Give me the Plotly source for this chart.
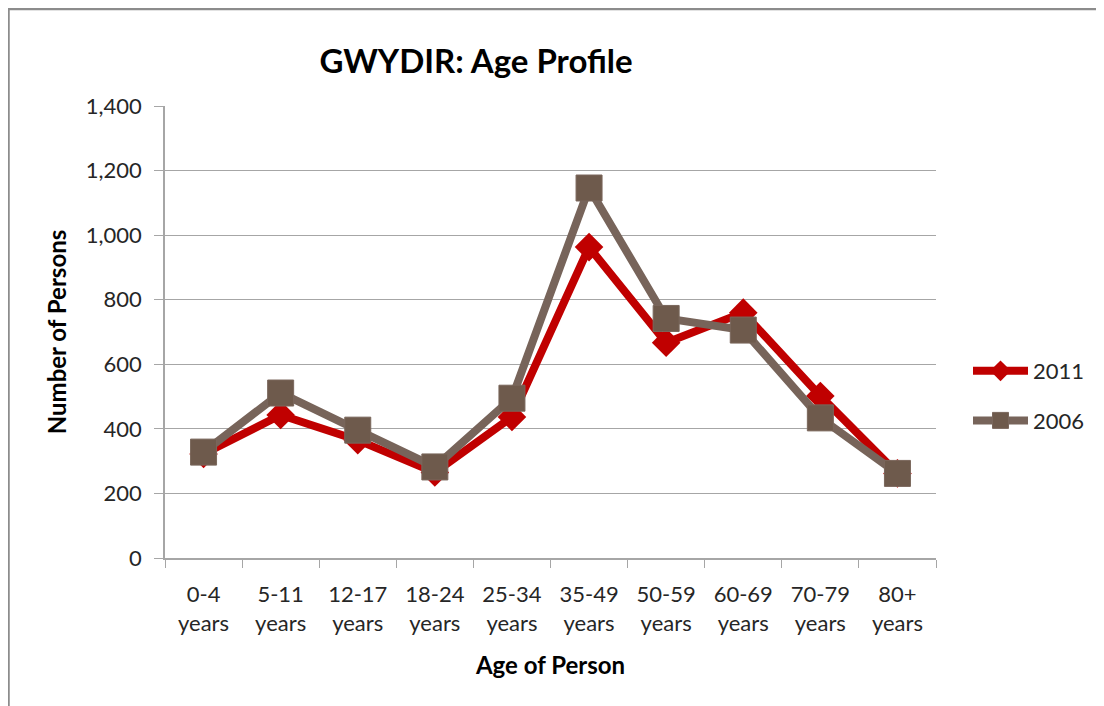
import plotly.graph_objects as go

categories = ["0-4<br>years", "5-11<br>years", "12-17<br>years", "18-24<br>years",
              "25-34<br>years", "35-49<br>years", "50-59<br>years", "60-69<br>years",
              "70-79<br>years", "80+<br>years"]
values_2011 = [322, 443, 365, 265, 437, 963, 667, 760, 502, 262]
values_2006 = [328, 511, 396, 282, 495, 1146, 742, 706, 434, 262]
y_ticks = [0, 200, 400, 600, 800, 1000, 1200, 1400]

FONT = "Lato"
OFF = 8  # page body margin
W, H = 1104 - OFF, 706 - OFF
L, T = 165 - OFF, 106 - OFF
R = W - (936 - OFF)
B = H - (558 - OFF)
pw, ph = W - L - R, H - T - B

def px(xp):  # page x -> paper
    return (xp - OFF - L) / pw

def py(yp):  # page y -> paper
    return (H - B - (yp - OFF)) / ph

fig = go.Figure()
fig.add_trace(go.Scatter(
    x=categories, y=values_2011, name="2011", mode="lines+markers",
    legendgroup="a",
    line=dict(color="#C00000", width=8),
    marker=dict(symbol="diamond", size=22, color="#C00000"),
))
fig.add_trace(go.Scatter(
    x=categories, y=values_2006, name="2006", mode="lines+markers",
    legendgroup="b",
    line=dict(color="#77645A", width=8),
    marker=dict(symbol="square", size=26, color="#6E5A4C",
                line=dict(color="#7A675C", width=1)),
))

# outer border box (chart area frame)
fig.add_shape(type="rect", xref="paper", yref="paper",
              x0=px(8.5), x1=px(1130),
              y0=py(740), y1=py(9),
              line=dict(color="#8C8C8C", width=2.5), layer="below")

fig.update_layout(
    width=W, height=H,
    margin=dict(l=L, r=R, t=T, b=B),
    paper_bgcolor="white", plot_bgcolor="white",
    font=dict(family=FONT, size=22, color="#262626"),
    title=dict(text="<b>GWYDIR: Age Profile</b>", x=(476 - OFF) / W, xanchor="center",
               y=1 - (61 - OFF) / H, yanchor="middle",
               font=dict(family=FONT, size=33, color="#000000")),
    showlegend=True,
    legend=dict(x=px(968), xanchor="left", y=py(396), yanchor="middle",
                font=dict(family=FONT, size=22, color="#262626"),
                traceorder="grouped",
                itemwidth=55, tracegroupgap=18, bgcolor="rgba(0,0,0,0)"),
    xaxis=dict(
        type="category", range=[-0.5, len(categories) - 0.5], autorange=False,
        showgrid=False, showline=True, linecolor="#A6A6A6", linewidth=1.5,
        ticks="outside", tickson="boundaries", ticklen=8, tickcolor="#A6A6A6",
        ticklabelstandoff=16,
        tickfont=dict(family=FONT, size=22, color="#262626"),
        title=dict(text="<b>Age of Person</b>", standoff=22,
                   font=dict(family=FONT, size=24, color="#000000")),
    ),
    yaxis=dict(
        range=[0, 1400], tickvals=y_ticks, tickformat=",",
        showgrid=True, gridcolor="#A6A6A6", gridwidth=1.2,
        showline=True, linecolor="#A6A6A6", linewidth=1.5,
        ticks="outside", ticklen=9, tickcolor="#A6A6A6",
        ticklabelstandoff=8,
        zeroline=False,
        tickfont=dict(family=FONT, size=22, color="#262626"),
        title=dict(text="<b>Number of Persons</b>", standoff=12,
                   font=dict(family=FONT, size=24, color="#000000")),
    ),
)

fig.write_html("out.html")
